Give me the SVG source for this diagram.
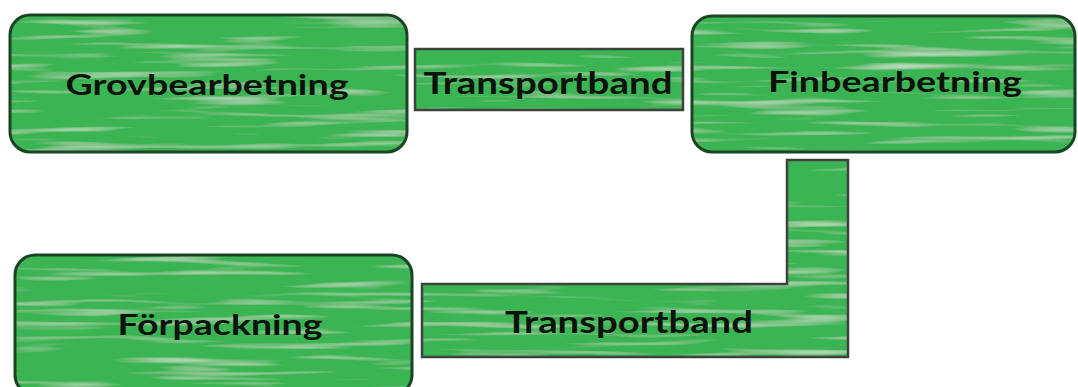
<svg xmlns="http://www.w3.org/2000/svg" width="1078" height="387" viewBox="0 0 1078 387">
  <style>
    .paint { fill: #3bb452; stroke: none; filter: url(#streaks); }
    .stage-edge { fill: none; stroke: #1b4424; stroke-width: 3; }
    .band-edge { fill: none; stroke: #3d423e; stroke-width: 2.5; }
    .label { font-family: Lato, "Noto Sans", sans-serif; font-weight: bold; fill: #0b120c; text-anchor: middle; }
  </style>
  <defs>
    <!-- brushed-paint look: stretched horizontal noise, lightened and kept inside the shape -->
    <filter id="streaks" x="-2%" y="-5%" width="104%" height="110%">
      <feTurbulence type="fractalNoise" baseFrequency="0.007 0.14" numOctaves="2" seed="7" result="noise"/>
      <feColorMatrix in="noise" type="matrix" values="0 0 0 0 1  0 0 0 0 1  0 0 0 0 1  0 0 0 2.4 -1.3" result="light"/>
      <feComponentTransfer in="light" result="soft">
        <feFuncA type="linear" slope="0.55"/>
      </feComponentTransfer>
      <feComposite in="soft" in2="SourceGraphic" operator="in" result="lightIn"/>
      <feMerge>
        <feMergeNode in="SourceGraphic"/>
        <feMergeNode in="lightIn"/>
      </feMerge>
    </filter>
    <rect id="shape-grov" x="10" y="15" width="397" height="137" rx="20" ry="20"/>
    <rect id="shape-fin" x="692" y="16" width="383" height="136" rx="20" ry="20"/>
    <rect id="shape-forp" x="15" y="255" width="397" height="140" rx="20" ry="20"/>
    <rect id="shape-band1" x="415" y="49" width="268" height="61"/>
    <path id="shape-band2" d="M787 160 H848 V357 H422 V284 H787 Z"/>
  </defs>

  <g id="connectors">
    <g id="band-top">
      <use href="#shape-band1" class="paint"/>
      <use href="#shape-band1" class="band-edge"/>
      <text class="label" x="548" y="94" font-size="30" textLength="249" lengthAdjust="spacingAndGlyphs">Transportband</text>
    </g>
    <g id="band-bottom">
      <use href="#shape-band2" class="paint"/>
      <use href="#shape-band2" class="band-edge"/>
      <text class="label" x="629" y="333" font-size="30" textLength="248" lengthAdjust="spacingAndGlyphs">Transportband</text>
    </g>
  </g>

  <g id="grovbearbetning">
    <use href="#shape-grov" class="paint"/>
    <use href="#shape-grov" class="stage-edge"/>
    <text class="label" x="207" y="95" font-size="28" textLength="283" lengthAdjust="spacingAndGlyphs">Grovbearbetning</text>
  </g>

  <g id="finbearbetning">
    <use href="#shape-fin" class="paint"/>
    <use href="#shape-fin" class="stage-edge"/>
    <text class="label" x="895" y="92" font-size="28" textLength="254" lengthAdjust="spacingAndGlyphs">Finbearbetning</text>
  </g>

  <g id="forpackning">
    <use href="#shape-forp" class="paint"/>
    <use href="#shape-forp" class="stage-edge"/>
    <text class="label" x="220" y="335" font-size="28" textLength="205" lengthAdjust="spacingAndGlyphs">Förpackning</text>
  </g>
</svg>
